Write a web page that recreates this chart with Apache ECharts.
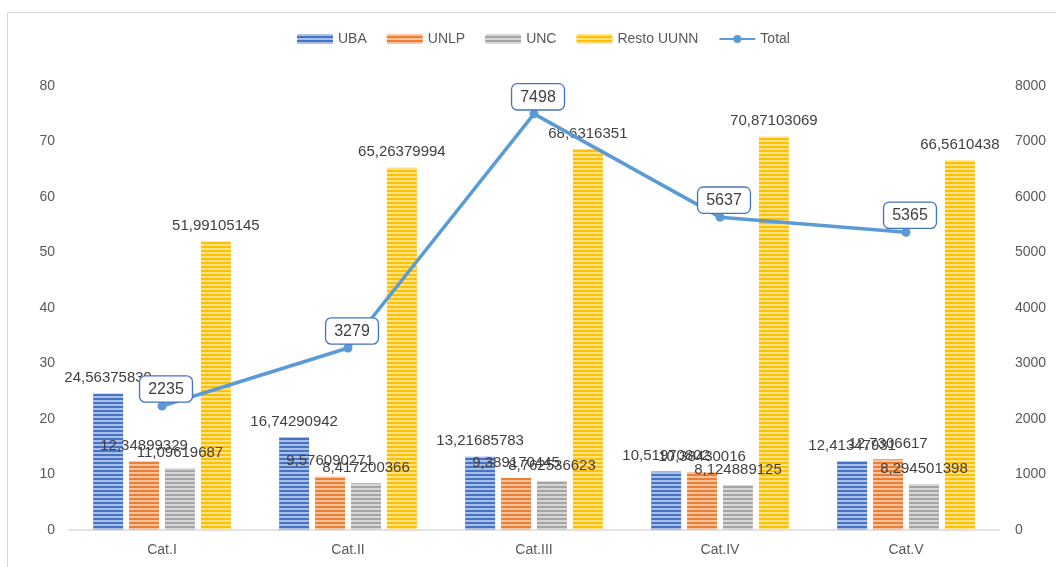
<!DOCTYPE html>
<html><head><meta charset="utf-8">
<script src="https://cdn.jsdelivr.net/npm/echarts@6/dist/echarts.min.js"></script>
<style>html,body{margin:0;padding:0;background:#fff;overflow:hidden;}
#c{position:absolute;left:0;top:0;width:1056px;height:567px;}
#b{position:absolute;left:7px;top:12px;width:1200px;height:800px;border:1px solid #d9d9d9;box-sizing:border-box;pointer-events:none;}
</style>
</head><body><div id="c"></div><div id="b"></div>
<script>
const categories = ['Cat.I','Cat.II','Cat.III','Cat.IV','Cat.V'];
const uba = [24.56375839, 16.74290942, 13.21685783, 10.51970802, 12.41347931];
const unlp = [12.34899329, 9.576090271, 9.389170445, 10.38430016, 12.7306617];
const unc = [11.09619687, 8.417200366, 8.762536623, 8.124889125, 8.294501398];
const resto = [51.99105145, 65.26379994, 68.6316351, 70.87103069, 66.5610438];
const total = [2235, 3279, 7498, 5637, 5365];
const leftTicks = [0, 80, 10];
const rightTicks = [0, 8000, 1000];

const fmt = p => String(p.value).replace('.', ',');
const decal = {symbol:'rect', symbolSize:1, dashArrayX:[1,0], dashArrayY:[2,1.2], rotation:0, color:'rgba(255,255,255,0.55)'};
const FONT = 'Liberation Sans, Arial';
function bar(name, color, vals) {
  return {
    name, type:'bar', yAxisIndex:0, barGap:'20%', barCategoryGap:'26%',
    itemStyle:{color, decal},
    label:{show:true, position:'top', distance:8, formatter:fmt, color:'#404040', fontSize:15, fontFamily:FONT},
    data: vals
  };
}
const chart = echarts.init(document.getElementById('c'));
chart.setOption({
  animation:false,
  textStyle:{fontFamily:FONT},
  legend:{top:27, left:292, itemWidth:36, itemHeight:10, itemGap:20,
    textStyle:{color:'#595959', fontSize:14},
    data:['UBA','UNLP','UNC','Resto UUNN','Total']},
  grid:{left:69, right:57, top:86, bottom:37},
  xAxis:{type:'category', data:categories,
    axisLine:{lineStyle:{color:'#d9d9d9', width:1.5}}, axisTick:{show:false},
    axisLabel:{color:'#595959', fontSize:14, margin:13}},
  yAxis:[
    {type:'value', min:leftTicks[0], max:leftTicks[1], interval:leftTicks[2], splitLine:{show:false},
     axisLabel:{color:'#595959', fontSize:14, margin:14}, axisLine:{show:false}},
    {type:'value', min:rightTicks[0], max:rightTicks[1], interval:rightTicks[2], splitLine:{show:false},
     axisLabel:{color:'#595959', fontSize:14, margin:16, formatter: v => String(v)}, axisLine:{show:false}}
  ],
  series:[
    bar('UBA', '#4472C4', uba),
    bar('UNLP', '#ED7D31', unlp),
    bar('UNC', '#A5A5A5', unc),
    bar('Resto UUNN', '#FFC000', resto),
    {name:'Total', type:'line', yAxisIndex:1, data:total, symbol:'circle', symbolSize:9,
     lineStyle:{color:'#5B9BD5', width:3.5}, itemStyle:{color:'#5B9BD5'},
     label:{show:true, position:'top', distance:0, offset:[4,0], color:'#404040', fontSize:16,
       backgroundColor:'#fff', borderColor:'#4472C4', borderWidth:1.3, borderRadius:5,
       padding:[5,8,4,8]},
     z:5}
  ]
});
</script></body></html>
